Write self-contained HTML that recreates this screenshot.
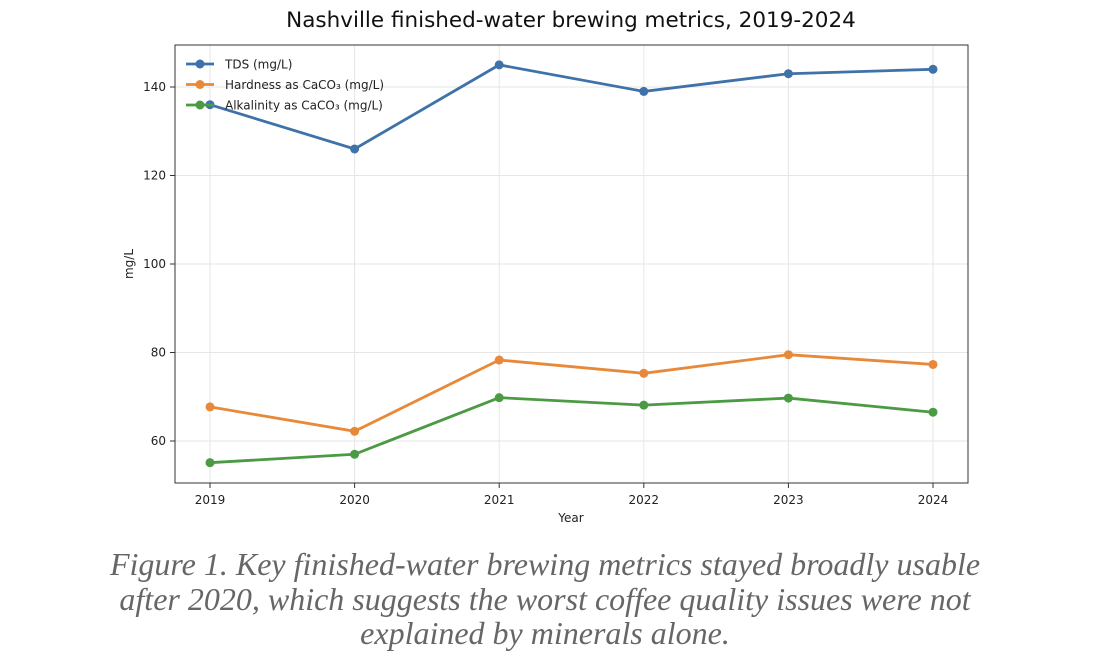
<!DOCTYPE html>
<html><head><meta charset="utf-8"><style>
body{margin:0;background:#fff;width:1120px;height:667px;overflow:hidden}
svg text{font-family:"DejaVu Sans","Liberation Sans",sans-serif}
.cap{position:absolute;left:0;top:547px;width:1090px;text-align:center;font-family:"Liberation Serif",serif;font-style:italic;font-size:32px;line-height:34.5px;color:#666}
</style></head><body>
<svg id="c" width="1120" height="667" style="position:absolute;left:0;top:0"></svg>
<div class="cap">Figure 1. Key finished-water brewing metrics stayed broadly usable<br>after 2020, which suggests the worst coffee quality issues were not<br>explained by minerals alone.</div>
<script>
const years=[2019,2020,2021,2022,2023,2024];
const tds=[136,126,145,139,143,144];
const hardness=[67.7,62.2,78.3,75.3,79.5,77.3];
const alkalinity=[55.1,57,69.8,68.1,69.7,66.5];
const yTicks=[60,80,100,120,140];
const seriesNames=["TDS (mg/L)","Hardness as CaCO\u2083 (mg/L)","Alkalinity as CaCO\u2083 (mg/L)"];
const colors=["#3e72a8","#e8893a","#4c9a44"];
const L=175,R=968,T=45,B=483;
const x=v=>210+(v-2019)*(933-210)/5;
const y=v=>441-(v-60)*(354/80);
const s=document.getElementById('c');const NS='http://www.w3.org/2000/svg';
function mk(t,a,p){const e=document.createElementNS(NS,t);for(const k in a)e.setAttribute(k,a[k]);(p||s).appendChild(e);return e;}
let e;
years.forEach(v=>{e=mk('line',{x1:x(v),x2:x(v),y1:T,y2:B,stroke:'#e6e6e6'});


e=mk('line',{x1:x(v),x2:x(v),y1:B,y2:B+5,stroke:'#333'});


e=mk('text',{x:x(v),y:B+21,'text-anchor':'middle','font-size':12,fill:'#222'});e.textContent=v;

});
yTicks.forEach(v=>{e=mk('line',{x1:L,x2:R,y1:y(v),y2:y(v),stroke:'#e6e6e6'});


e=mk('line',{x1:L-5,x2:L,y1:y(v),y2:y(v),stroke:'#333'});


e=mk('text',{x:L-9,y:y(v)+4,'text-anchor':'end','font-size':12,fill:'#222'});e.textContent=v;

});
e=mk('rect',{x:L,y:T,width:R-L,height:B-T,fill:'none',stroke:'#333'});


[tds,hardness,alkalinity].forEach((d,i)=>{
e=mk('polyline',{points:d.map((v,j)=>x(years[j])+','+y(v)).join(' '),fill:'none',stroke:colors[i],'stroke-width':2.8});


d.forEach((v,j)=>{e=mk('circle',{cx:x(years[j]),cy:y(v),r:4.5,fill:colors[i]});

});});
seriesNames.forEach((n,i)=>{const ly=64+i*20.5;
e=mk('line',{x1:186,x2:214,y1:ly,y2:ly,stroke:colors[i],'stroke-width':2.8});


e=mk('circle',{cx:200,cy:ly,r:4.5,fill:colors[i]});


e=mk('text',{x:225,y:ly+4.5,'font-size':12,fill:'#222'});e.textContent=n;

});
e=mk('text',{x:571,y:27,'text-anchor':'middle','font-size':21.5,fill:'#111'});e.textContent='Nashville finished-water brewing metrics, 2019-2024';


e=mk('text',{x:571,y:522,'text-anchor':'middle','font-size':12,fill:'#222'});e.textContent='Year';


e=mk('text',{x:133,y:264,'text-anchor':'middle','font-size':12,fill:'#222',transform:'rotate(-90 133 264)'});e.textContent='mg/L';


</script>
</body></html>
